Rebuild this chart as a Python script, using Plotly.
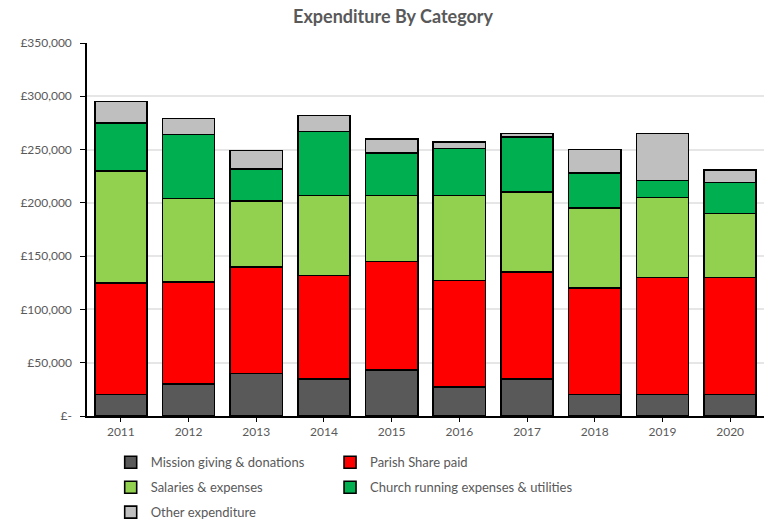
import plotly.graph_objects as go

years = ["2011", "2012", "2013", "2014", "2015", "2016", "2017", "2018", "2019", "2020"]
mission = [20000, 30000, 40000, 35000, 43000, 27000, 35000, 20000, 20000, 20000]
parish = [105000, 96000, 100000, 97000, 102000, 100000, 100000, 100000, 110000, 110000]
salaries = [105000, 78000, 62000, 75000, 62000, 80000, 75000, 75000, 75000, 60000]
running = [45000, 60000, 30000, 60000, 40000, 44000, 52000, 33000, 16000, 29000]
other = [20000, 15000, 17000, 15000, 13000, 6000, 3000, 22000, 44000, 12000]

series = [
    ("Mission giving & donations", mission, "#595959", "legend"),
    ("Parish Share paid", parish, "#FF0000", "legend2"),
    ("Salaries & expenses", salaries, "#92D050", "legend"),
    ("Church running expenses & utilities", running, "#00B050", "legend2"),
    ("Other expenditure", other, "#BFBFBF", "legend"),
]

y_ticks = [0, 50000, 100000, 150000, 200000, 250000, 300000, 350000]
y_labels = ["£-", "£50,000", "£100,000", "£150,000", "£200,000", "£250,000", "£300,000", "£350,000"]

font_family = "Lato, 'Open Sans', sans-serif"
text_color = "#595959"

fig = go.Figure()
for i, (name, vals, color, lg) in enumerate(series):
    fig.add_trace(go.Bar(
        x=years, y=vals, name=name, legend=lg, legendgroup="g%d" % i,
        marker=dict(color=color, line=dict(color="#000000", width=1.6)),
    ))

legend_common = dict(orientation="v", yanchor="top", xanchor="left",
                     font=dict(size=13, color=text_color, family=font_family),
                     traceorder="grouped", tracegroupgap=5, itemwidth=30,
                     bgcolor="rgba(0,0,0,0)")

fig.update_layout(
    barmode="stack",
    bargap=0.23,
    width=764, height=520,
    margin=dict(l=87, r=0, t=43, b=104, autoexpand=False),
    paper_bgcolor="white",
    plot_bgcolor="white",
    font=dict(family=font_family, color=text_color, size=11),
    title=dict(text="<b>Expenditure By Category</b>", x=0.5145, xanchor="center",
               y=0.967, yanchor="middle",
               font=dict(size=18, color=text_color, family=font_family)),
    showlegend=True,
    legend=dict(x=0.035, y=-0.084, **legend_common),
    legend2=dict(x=0.359, y=-0.084, **legend_common),
    xaxis=dict(showline=True, linecolor="#000000", linewidth=1.5,
               ticks="outside", ticklen=4, tickcolor="#000000",
               tickfont=dict(size=12, color=text_color)),
    yaxis=dict(range=[0, 350000], tickvals=y_ticks, ticktext=y_labels,
               showline=True, linecolor="#000000", linewidth=1.5,
               ticks="outside", ticklen=5, tickcolor="#000000",
               ticklabelstandoff=6,
               showgrid=True, gridcolor="#E6E6E6", gridwidth=1.5,
               zeroline=False,
               tickfont=dict(size=12, color=text_color)),
)

fig.write_html("out.html", config={"displayModeBar": False},
               post_script="document.body.style.margin='0';")
